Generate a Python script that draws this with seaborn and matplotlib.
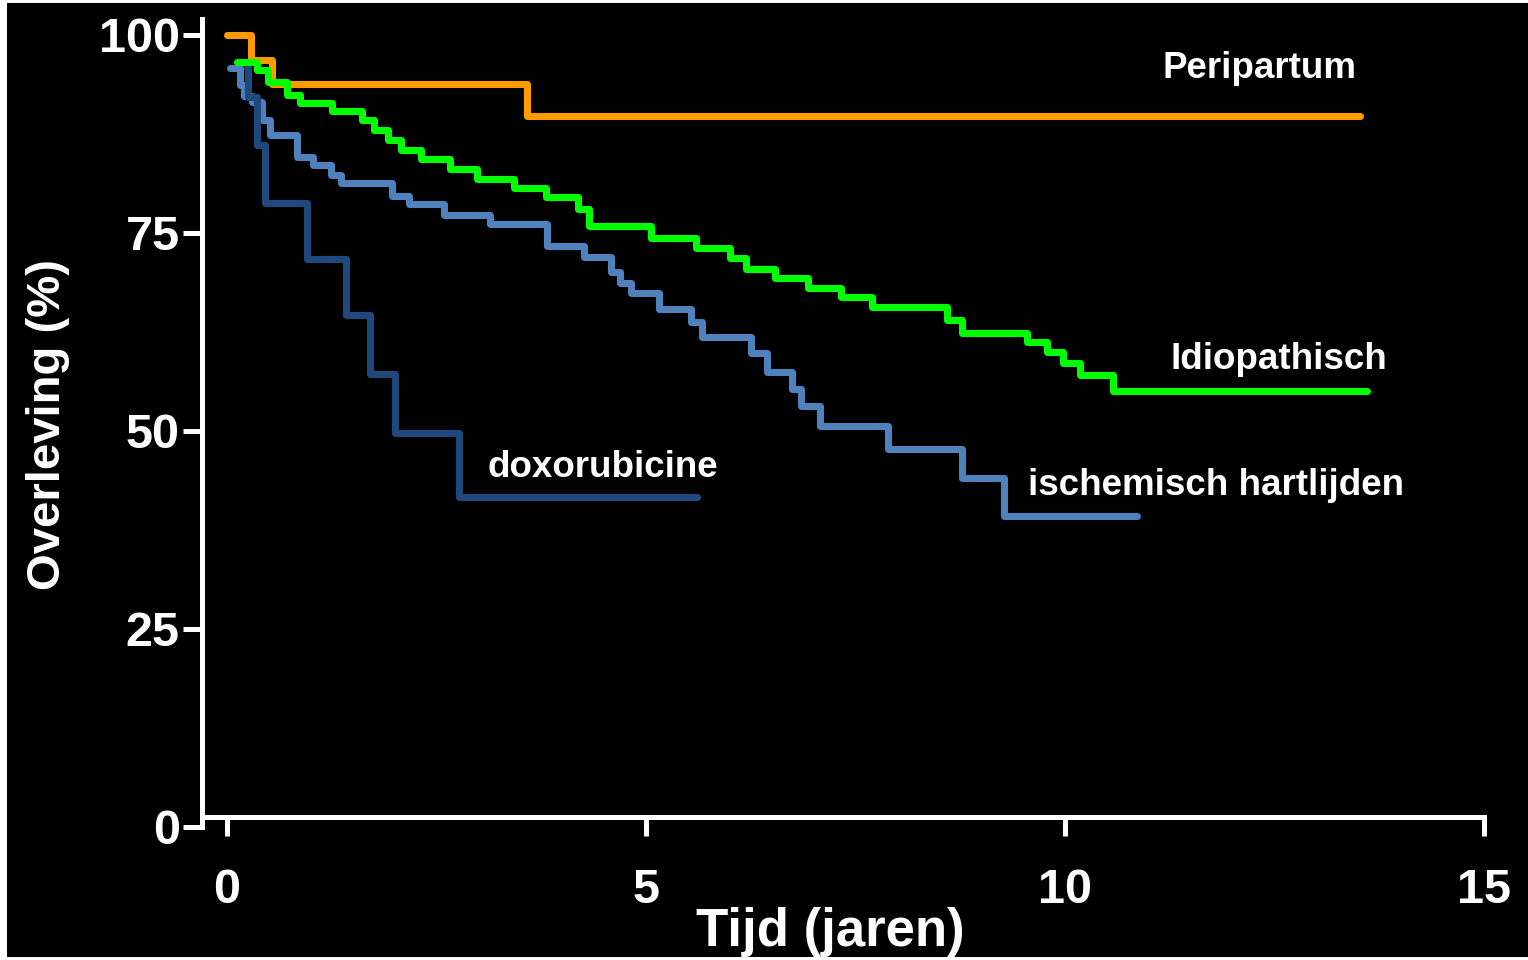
import matplotlib
matplotlib.use("Agg")
import matplotlib.pyplot as plt
from matplotlib.patches import Rectangle
import pandas as pd
import seaborn as sns

# Kaplan-Meier survival per etiology: event times (years) and survival (%)
# the last entry of each series marks the end of follow-up
peri_t = [0.0, 0.29, 0.54, 3.58, 13.53]
peri_s = [100.0, 96.8, 93.8, 89.8, 89.8]

idio_t = [0.12, 0.36, 0.49, 0.72, 0.87, 1.25, 1.61, 1.76, 1.92, 2.08, 2.32,
          2.66, 2.98, 3.43, 3.81, 4.19, 4.32, 5.06, 5.60, 6.01, 6.20, 6.54,
          6.94, 7.33, 7.70, 8.59, 8.77, 9.55, 9.79, 9.98, 10.18, 10.58, 13.61]
idio_s = [96.6, 95.6, 94.1, 92.4, 91.4, 90.4, 89.3, 88.0, 86.7, 85.5, 84.3,
          83.1, 81.8, 80.7, 79.5, 78.0, 75.9, 74.4, 73.1, 71.8, 70.5, 69.3,
          68.1, 66.9, 65.6, 64.0, 62.4, 61.2, 59.9, 58.6, 57.1, 55.0, 55.0]

isch_t = [0.04, 0.16, 0.20, 0.30, 0.42, 0.51, 0.84, 1.03, 1.24, 1.36, 1.97,
          2.17, 2.59, 3.14, 3.82, 4.26, 4.58, 4.69, 4.82, 5.16, 5.54, 5.67,
          6.26, 6.45, 6.75, 6.85, 7.08, 7.89, 8.77, 9.28, 10.86]
isch_s = [95.8, 93.7, 92.3, 91.5, 89.3, 87.4, 84.6, 83.6, 82.3, 81.3, 79.7,
          78.7, 77.2, 76.1, 73.3, 72.0, 70.1, 68.7, 67.4, 65.4, 63.8, 61.9,
          59.8, 57.5, 55.3, 53.2, 50.6, 47.7, 44.0, 39.3, 39.3]

doxo_t = [0.24, 0.25, 0.36, 0.45, 0.96, 1.42, 1.71, 2.01, 2.77, 5.61]
doxo_s = [95.8, 92.1, 86.1, 78.8, 71.7, 64.6, 57.2, 49.8, 41.7, 41.7]

groups = ["Peripartum", "ischemisch hartlijden", "doxorubicine", "Idiopathisch"]
palette = {
    "Peripartum": "#FF9900",
    "ischemisch hartlijden": "#4F81BD",
    "doxorubicine": "#1F497D",
    "Idiopathisch": "#00FF00",
}

x_ticks = [0, 5, 10, 15]
y_ticks = [0, 25, 50, 75, 100]

# curve labels: (text, x, y) in data units, left/baseline anchored
curve_labels = [
    ("Peripartum", 11.17, 94.5),
    ("Idiopathisch", 11.26, 57.8),
    ("ischemisch hartlijden", 9.56, 41.9),
    ("doxorubicine", 3.11, 44.2),
]

series = {
    "Peripartum": (peri_t, peri_s),
    "ischemisch hartlijden": (isch_t, isch_s),
    "doxorubicine": (doxo_t, doxo_s),
    "Idiopathisch": (idio_t, idio_s),
}
df = pd.concat(
    [pd.DataFrame({"Tijd": t, "Overleving": s, "Groep": g})
     for g, (t, s) in series.items()],
    ignore_index=True,
)

sns.set_theme(style="ticks")
plt.rcParams["font.family"] = ["Liberation Sans", "DejaVu Sans"]
plt.rcParams["font.weight"] = "bold"

W, H = 1528, 960
fig = plt.figure(figsize=(W / 100, H / 100), dpi=100, facecolor="white")
# black slide area inside a thin white margin
fig.patches.append(Rectangle((7 / W, 3 / H), 1 - 7 / W, 1 - 6 / H,
                             transform=fig.transFigure, facecolor="black",
                             edgecolor="none", zorder=-10))

ax = fig.add_axes([202 / W, (H - 827) / H, (1483.5 - 202) / W, (827 - 19) / H])
ax.set_facecolor("black")

sns.lineplot(data=df, x="Tijd", y="Overleving", hue="Groep", hue_order=groups,
             palette=palette, estimator=None, sort=False, drawstyle="steps-post",
             linewidth=5.1, legend=False, ax=ax)

ax.set_xlim(-0.298, 15.0)
ax.set_ylim(0, 102.0)
ax.set_xticks(x_ticks)
ax.set_yticks(y_ticks)
ax.set_xlabel("")
ax.set_ylabel("")

for side in ("top", "right"):
    ax.spines[side].set_visible(False)
for side in ("left", "bottom"):
    ax.spines[side].set_color("white")
    ax.spines[side].set_linewidth(3.6)
ax.spines["bottom"].set_position(("data", 1.26))

ax.tick_params(axis="both", direction="out", length=14, width=3.6,
               color="white", labelcolor="white", labelsize=35)
ax.tick_params(axis="x", pad=23)
ax.tick_params(axis="y", pad=2)
for lbl in ax.get_xticklabels() + ax.get_yticklabels():
    lbl.set_fontweight("bold")

for text, x, y in curve_labels:
    ax.text(x, y, text, color="white", fontsize=26.5, fontweight="bold",
            ha="left", va="baseline")

fig.text(48 / W, 1 - 424 / H, "Overleving (%)", rotation=90, color="white",
         fontsize=34, fontweight="bold", ha="center", va="center")
fig.text(830 / W, 14 / H, "Tijd (jaren)", color="white", fontsize=38,
         fontweight="bold", ha="center", va="baseline")

fig.savefig("out.png", dpi=100, facecolor="white")
